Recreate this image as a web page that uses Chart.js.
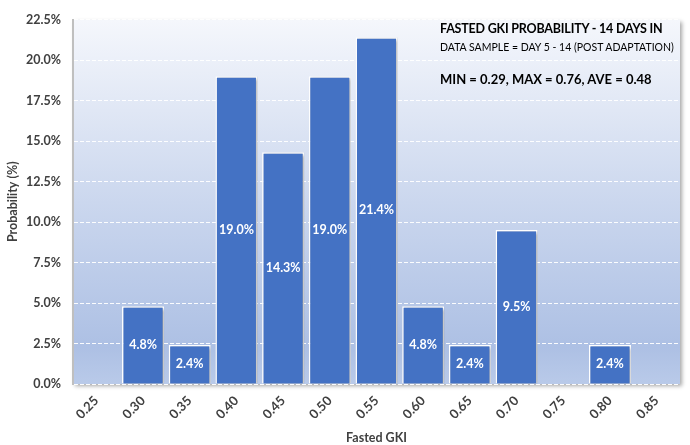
<!DOCTYPE html>
<html>
<head>
<meta charset="utf-8">
<script src="https://cdn.jsdelivr.net/npm/chart.js@4"></script>
<style>
html,body{margin:0;padding:0;background:#fff;}
#wrap{position:relative;width:690px;height:445px;}
canvas{display:block;}
.ann{position:absolute;font-family:Lato,"Open Sans",sans-serif;color:#000;white-space:nowrap;line-height:1;}
</style>
</head>
<body>
<div id="wrap">
<canvas id="c" width="690" height="445"></canvas>
<div class="ann" style="left:440px;top:23px;font-size:12.5px;font-weight:bold;letter-spacing:-0.2px;">FASTED GKI PROBABILITY - 14 DAYS IN</div>
<div class="ann" style="left:440px;top:42px;font-size:10.5px;">DATA SAMPLE = DAY 5 - 14 (POST ADAPTATION)</div>
<div class="ann" style="left:440px;top:73px;font-size:13px;font-weight:bold;">MIN = 0.29, MAX = 0.76, AVE = 0.48</div>
</div>
<script>
const categories = ["0.25","0.30","0.35","0.40","0.45","0.50","0.55","0.60","0.65","0.70","0.75","0.80","0.85"];
const probabilities = [0, 4.8, 2.4, 19.0, 14.3, 19.0, 21.4, 4.8, 2.4, 9.5, 0, 2.4, 0];
const yTicks = [0, 2.5, 5, 7.5, 10, 12.5, 15, 17.5, 20, 22.5];

const FONT = 'Lato, "Open Sans", sans-serif';

const bgPlugin = {
  id: 'bg',
  beforeDraw(chart) {
    const {ctx, chartArea: a} = chart;
    ctx.save();
    ctx.shadowColor = 'rgba(0,0,0,0.35)';
    ctx.shadowBlur = 4;
    ctx.shadowOffsetX = 2;
    ctx.shadowOffsetY = 2;
    const g = ctx.createLinearGradient(0, a.top, 0, a.bottom);
    g.addColorStop(0, '#f5f7fc');
    g.addColorStop(0.5, '#cbd7ee');
    g.addColorStop(0.9, '#adc0e4');
    g.addColorStop(1, '#b9cae9');
    ctx.fillStyle = g;
    ctx.fillRect(a.left, a.top, a.right - a.left, a.bottom - a.top);
    ctx.restore();
  }
};

const shadowPlugin = {
  id: 'barShadow',
  beforeDatasetDraw(chart) {
    const ctx = chart.ctx;
    ctx.save();
    ctx.shadowColor = 'rgba(0,0,0,0.3)';
    ctx.shadowBlur = 3;
    ctx.shadowOffsetX = 2;
    ctx.shadowOffsetY = 1;
  },
  afterDatasetDraw(chart) {
    chart.ctx.restore();
  }
};

const labelPlugin = {
  id: 'lbl',
  afterDatasetsDraw(chart) {
    const {ctx} = chart;
    const meta = chart.getDatasetMeta(0);
    ctx.save();
    ctx.font = 'bold 12.5px ' + FONT;
    ctx.fillStyle = '#ffffff';
    ctx.textAlign = 'center';
    ctx.textBaseline = 'middle';
    meta.data.forEach((bar, i) => {
      const v = probabilities[i];
      if (!v) return;
      const y = (bar.y + bar.base) / 2;
      ctx.fillText(v.toFixed(1) + '%', bar.x, y);
    });
    ctx.restore();
  }
};

new Chart(document.getElementById('c'), {
  type: 'bar',
  data: {
    labels: categories,
    datasets: [{
      data: probabilities,
      backgroundColor: '#4472c4',
      borderColor: '#ffffff',
      borderWidth: 1.5,
      barPercentage: 0.9,
      categoryPercentage: 1.0
    }]
  },
  options: {
    responsive: false,
    animation: false,
    layout: {padding: {left: 5, right: 10, top: 19, bottom: 0}},
    plugins: {legend: {display: false}, tooltip: {enabled: false}},
    scales: {
      x: {
        grid: {display: false, drawTicks: false},
        border: {display: false},
        ticks: {
          color: '#404040', font: {family: FONT, size: 13, weight: 'bold'},
          maxRotation: 45, minRotation: 45, padding: 9
        },
        title: {display: true, text: 'Fasted GKI', color: '#404040',
          font: {family: FONT, size: 12.5, weight: 'bold'}, padding: {top: 2, bottom: 0}},
        afterFit(s) { s.height = 61; }
      },
      y: {
        min: 0, max: 22.5,
        afterBuildTicks(s) { s.ticks = yTicks.map(v => ({value: v})); },
        grid: {color: 'rgba(255,255,255,0.95)', lineWidth: 1, drawTicks: false},
        border: {display: true, color: '#bfbfbf', width: 2, dash: [4, 2]},
        ticks: {
          color: '#404040', font: {family: FONT, size: 12.5, weight: 'bold'}, padding: 12,
          callback: v => v.toFixed(1) + '%'
        },
        title: {display: true, text: 'Probability (%)', color: '#404040',
          font: {family: FONT, size: 12.5, weight: 'bold'}, padding: {top: 0, bottom: 4}},
        afterFit(s) { s.width = 68; }
      }
    }
  },
  plugins: [bgPlugin, shadowPlugin, labelPlugin]
});
</script>
</body>
</html>
